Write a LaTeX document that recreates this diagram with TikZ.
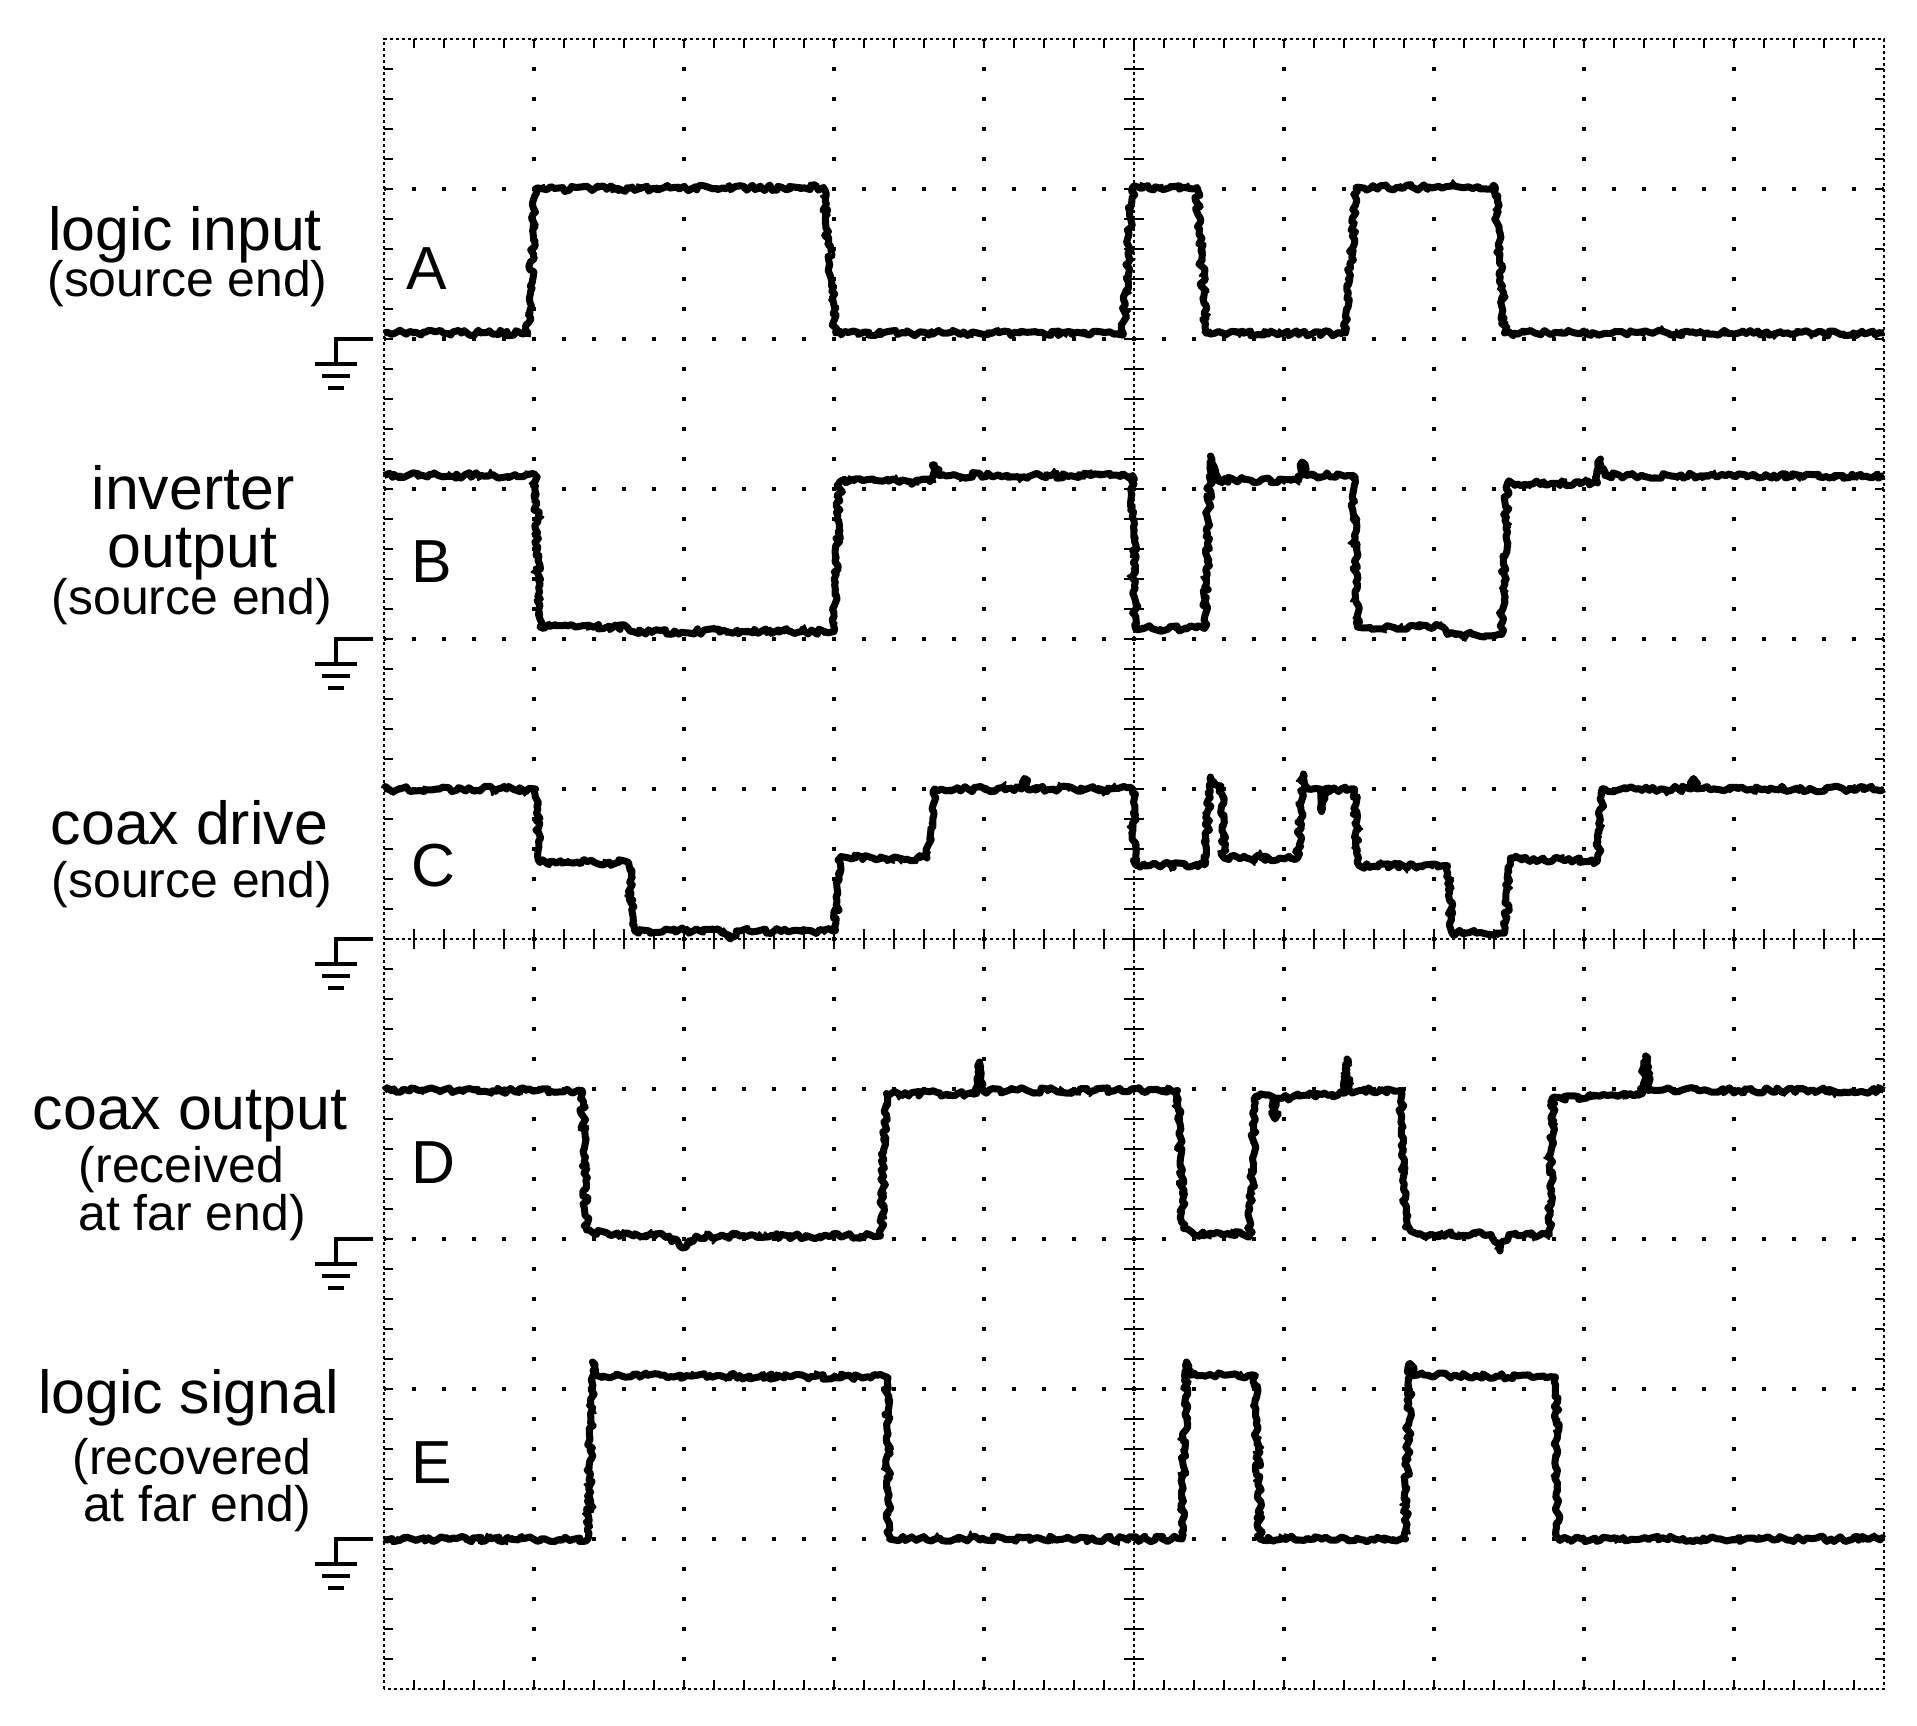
\documentclass[tikz,border=0pt]{standalone}
\usepackage{fontspec}
\setmainfont{Liberation Sans}
\usetikzlibrary{decorations.pathmorphing}
\tikzset{griddots/.style={line width=1pt, dash pattern=on 1pt off 7.535pt, dash phase=0.5pt}}
\tikzset{finedots/.style={line width=0.8pt, dash pattern=on 0.85pt off 0.857pt}}
\tikzset{tick/.style={line width=0.8pt}}
\tikzset{fuzz/.style={draw, line width=0.6pt, decorate,
    decoration={random steps, segment length=1.1pt, amplitude=1.5pt}}}
\tikzset{trace/.style={line width=2pt, line join=round, decorate,
    decoration={random steps, segment length=1pt, amplitude=0.8pt}, postaction={fuzz}}}
\tikzset{gnd/.style={line width=1.2pt}}
\tikzset{lab/.style={anchor=base, inner sep=0pt, font=\biglab}}
\tikzset{sublab/.style={anchor=base, inner sep=0pt, font=\smalllab}}
\newcommand{\biglab}{\fontsize{17.3}{18}\selectfont}
\newcommand{\smalllab}{\fontsize{14.2}{15}\selectfont}

\begin{document}
\begin{tikzpicture}[x=1.5cm, y=1.5cm]
      \useasboundingbox (-2.56,-0.24) rectangle (10.22,11.26);
      \pgfmathsetseed{7}

      % graticule
      \foreach \i in {1,2,3,4,6,7,8,9} {\draw[griddots] (\i,0) -- (\i,11);}
      \foreach \j in {1,2,3,4,6,7,8,9,10} {\draw[griddots] (0,\j) -- (10,\j);}
      \draw[finedots] (0,0) rectangle (10,11);
      \draw[finedots] (5,0) -- (5,11);
      \draw[finedots] (0,5) -- (10,5);
      \foreach \k in {1,...,54} {
        \draw[tick] (4.933,{\k*0.2}) -- (5.067,{\k*0.2});
        \draw[tick] (0,{\k*0.2}) -- (0.06,{\k*0.2});
        \draw[tick] (10,{\k*0.2}) -- (9.94,{\k*0.2});
      }
      \foreach \k in {1,...,49} {
        \draw[tick] ({\k*0.2},4.933) -- ({\k*0.2},5.067);
        \draw[tick] ({\k*0.2},0) -- ({\k*0.2},0.06);
        \draw[tick] ({\k*0.2},11) -- ({\k*0.2},10.94);
      }

      % ground marks
      \foreach \g in {1,3,5,7,9} {
        \draw[gnd] (-0.07,\g) -- (-0.32,\g) -- (-0.32,\g-0.165);
        \draw[gnd] (-0.457,\g-0.165) -- (-0.183,\g-0.165);
        \draw[gnd] (-0.413,\g-0.245) -- (-0.227,\g-0.245);
        \draw[gnd] (-0.373,\g-0.325) -- (-0.267,\g-0.325);
      }

      % traces
      \draw[trace] (0,9.04) -- (0.96,9.04) -- (1.01,10.0) -- (2.93,10.01) -- (3.01,9.04)
        -- (4.93,9.04) -- (4.99,10.01) -- (5.42,10.01) -- (5.48,9.04) -- (6.41,9.04)
        -- (6.48,10.01) -- (7.41,10.01) -- (7.47,9.04) -- (10,9.04);
      \draw[trace] (0,8.09) -- (1.01,8.09) -- (1.04,7.08) -- (1.62,7.08) -- (1.66,7.05)
        -- (3.0,7.05) -- (3.04,8.05) -- (3.64,8.05) -- (3.67,8.16) -- (3.70,8.09)
        -- (4.99,8.09) -- (5.01,7.07) -- (5.47,7.07) -- (5.51,8.22) -- (5.55,8.06)
        -- (6.10,8.06) -- (6.12,8.18) -- (6.15,8.09) -- (6.46,8.09) -- (6.49,7.08)
        -- (7.06,7.08) -- (7.09,7.03) -- (7.45,7.03) -- (7.49,8.04) -- (8.09,8.04)
        -- (8.11,8.2) -- (8.14,8.09) -- (10,8.09);
      \draw[trace] (0,6.0) -- (1.01,6.0) -- (1.04,5.51) -- (1.63,5.51) -- (1.67,5.055)
        -- (2.24,5.055) -- (2.31,5.0) -- (2.38,5.055) -- (3.01,5.055) -- (3.04,5.54)
        -- (3.62,5.54) -- (3.67,6.0) -- (4.25,6.0) -- (4.27,6.07) -- (4.29,6.0)
        -- (4.99,6.0) -- (5.01,5.495) -- (5.47,5.495) -- (5.51,6.08) -- (5.58,6.02)
        -- (5.6,5.54) -- (6.09,5.54) -- (6.13,6.1) -- (6.16,6.0) -- (6.24,6.0)
        -- (6.25,5.85) -- (6.27,6.0) -- (6.47,6.0) -- (6.5,5.49) -- (7.09,5.49)
        -- (7.12,5.04) -- (7.47,5.04) -- (7.51,5.54) -- (8.09,5.52) -- (8.12,6.0)
        -- (8.71,6.0) -- (8.73,6.07) -- (8.75,6.0) -- (10,6.0);
      \draw[trace] (0,3.99) -- (1.32,3.99) -- (1.35,3.06) -- (1.5,3.03) -- (1.9,3.02)
        -- (1.99,2.94) -- (2.08,3.02) -- (3.31,3.02) -- (3.35,3.97) -- (3.95,3.97)
        -- (3.97,4.18) -- (3.99,3.99) -- (5.29,3.99) -- (5.33,3.07) -- (5.4,3.03)
        -- (5.77,3.03) -- (5.81,3.95) -- (5.92,3.95) -- (5.94,3.8) -- (5.96,3.94)
        -- (6.40,3.97) -- (6.42,4.2) -- (6.44,3.99) -- (6.78,3.99) -- (6.81,3.08)
        -- (6.9,3.03) -- (7.38,3.03) -- (7.44,2.92) -- (7.5,3.03) -- (7.77,3.03)
        -- (7.79,3.94) -- (8.39,3.97) -- (8.41,4.22) -- (8.43,3.99) -- (10,3.99);
      \draw[trace] (0,1.0) -- (1.36,1.0) -- (1.39,2.18) -- (1.42,2.09) -- (3.35,2.08)
        -- (3.37,1.0) -- (5.32,1.0) -- (5.35,2.18) -- (5.38,2.09) -- (5.81,2.09)
        -- (5.84,1.0) -- (6.81,1.0) -- (6.84,2.17) -- (6.87,2.09) -- (7.81,2.08)
        -- (7.83,1.0) -- (10,1.0);

      % labels
      \node[lab] (inA) at (-1.327,9.593) {logic input};
      \node[sublab] (srcA) at (-1.31,9.28) {(source end)};
      \node[lab] (A) at (0.287,9.327) {A};

      \node[lab] (invB) at (-1.273,7.86) {inverter};
      \node[lab] (outB) at (-1.277,7.48) {output};
      \node[sublab] (srcB) at (-1.28,7.165) {(source end)};
      \node[lab] (B) at (0.32,7.38) {B};

      \node[lab] (drvC) at (-1.297,5.633) {coax drive};
      \node[sublab] (srcC) at (-1.28,5.28) {(source end)};
      \node[lab] (C) at (0.333,5.347) {C};

      \node[lab] (outD) at (-1.293,3.733) {coax output};
      \node[sublab] (rcvD) at (-1.35,3.38) {(received};
      \node[sublab] (farD) at (-1.28,3.06) {at far end)};
      \node[lab] (D) at (0.333,3.373) {D};

      \node[lab] (sigE) at (-1.303,1.84) {logic signal};
      \node[sublab] (recE) at (-1.28,1.433) {(recovered};
      \node[sublab] (farE) at (-1.247,1.12) {at far end)};
      \node[lab] (E) at (0.32,1.367) {E};
\end{tikzpicture}
\end{document}
